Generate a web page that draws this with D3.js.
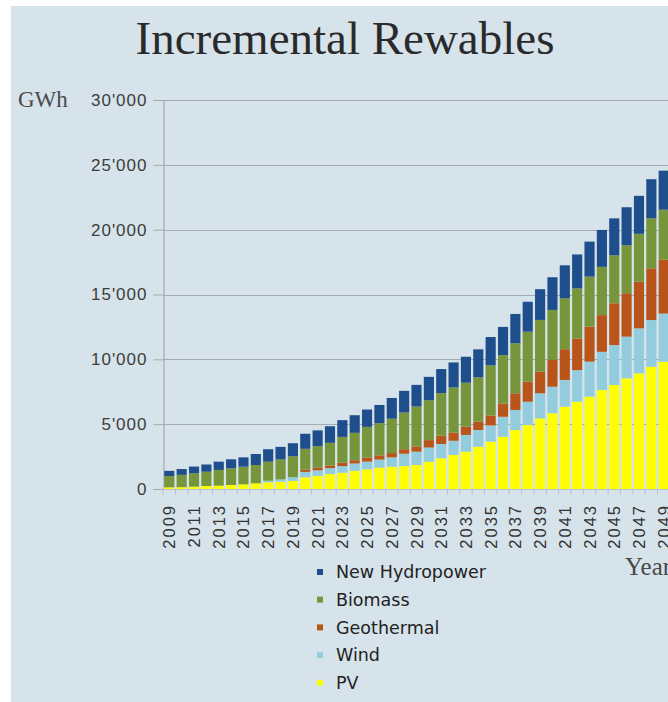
<!DOCTYPE html>
<html>
<head>
<meta charset="utf-8">
<script src="https://cdn.jsdelivr.net/npm/d3@7"></script>
<style>
    body { margin: 0; background: #fff; }
    svg { display: block; overflow: hidden; }
</style>
</head>
<body>
<div class="svg"></div>
<script>
var years = d3.range(2009, 2050);

var pv = [130, 140, 180, 230, 260, 310, 360, 440, 520, 560, 620,
    900, 1000, 1150, 1250, 1400, 1520, 1650, 1720, 1770, 1850,
    2100, 2370, 2620, 2880, 3260, 3650, 4030, 4550, 4930, 5450,
    5840, 6350, 6730, 7120, 7630, 8020, 8540, 8920, 9430, 9810];
var wind = [0, 0, 0, 0, 0, 0, 0, 0, 120, 180, 290,
    420, 440, 460, 520, 570, 590, 620, 720, 950, 1030,
    1100, 1100, 1100, 1290, 1290, 1250, 1540, 1540, 1800, 1930,
    2050, 2060, 2440, 2700, 2950, 3080, 3210, 3470, 3600, 3720];
var geothermal = [0, 0, 0, 0, 0, 0, 0, 0, 0, 0, 0,
    180, 200, 200, 250, 250, 320, 320, 330, 350, 400,
    570, 640, 640, 640, 640, 770, 1030, 1290, 1540, 1670,
    2060, 2370, 2440, 2700, 2830, 3220, 3350, 3590, 3990, 4150];
var biomass = [870, 950, 1030, 1100, 1210, 1290, 1360, 1410, 1470, 1540, 1620,
    1600, 1670, 1750, 2000, 2110, 2360, 2490, 2650, 2830, 3080,
    3080, 3290, 3470, 3390, 3420, 3860, 3720, 3860, 3860, 3990,
    3860, 3930, 3860, 3860, 3720, 3700, 3700, 3700, 3860, 3860];
var hydro = [400, 450, 520, 560, 640, 690, 720, 850, 960, 970, 1000,
    1160, 1210, 1280, 1290, 1360, 1340, 1400, 1600, 1670, 1670,
    1800, 1850, 1930, 2000, 2160, 2190, 2180, 2260, 2310, 2370,
    2520, 2540, 2620, 2700, 2850, 2850, 2930, 2930, 3010, 3010];

var seriesNames = ['PV', 'Wind', 'Geothermal', 'Biomass', 'New Hydropower'];
var seriesColors = ['#ffff00', '#93cddd', '#b9551a', '#77953b', '#1f4e8d'];
var yTicks = [0, 5000, 10000, 15000, 20000, 25000, 30000];

width = 668;
height = 702;

var table = years.map(function (yr, i) {
    return { year: yr, 'PV': pv[i], 'Wind': wind[i], 'Geothermal': geothermal[i],
        'Biomass': biomass[i], 'New Hydropower': hydro[i] };
});

var stacked = d3.stack().keys(seriesNames)(table);

var svg = d3.select('div.svg')
    .append('svg')
    .attr('width', width)
    .attr('height', height)

svg.append('rect')
    .attr('x', 11)
    .attr('y', 6)
    .attr('width', width - 11)
    .attr('height', height - 6)
    .attr('fill', '#d6e3ea')

var x = d3.scaleBand()
    .domain(years)
    .range([163, 670])
    .paddingInner(0.18)
    .paddingOuter(0.1)

var y = d3.scaleLinear()
    .domain([0, 30000])
    .range([489, 100])

var color = d3.scaleOrdinal()
    .domain(seriesNames)
    .range(seriesColors)

var fmt = function (d) { return d3.format(',')(d).replace(',', "'"); };

svg.append('g')
    .selectAll('line')
    .data(yTicks.slice(1))
    .enter()
    .append('line')
    .attr('x1', 163)
    .attr('x2', width)
    .attr('y1', d => Math.round(y(d)) + 0.5)
    .attr('y2', d => Math.round(y(d)) + 0.5)
    .attr('stroke', '#a3abb0')
    .attr('stroke-width', 1.2)

var yAxis = svg.append('g')
    .attr('transform', 'translate(163.5,0)')
    .call(d3.axisLeft(y).tickValues(yTicks).tickFormat(fmt).tickSize(10).tickPadding(6))

yAxis.select('.domain').attr('stroke', '#a3abb0').attr('stroke-width', 1.2)
yAxis.selectAll('.tick line').attr('stroke', '#a3abb0')
yAxis.selectAll('.tick text')
    .attr('font-family', '"Liberation Sans", Arial, sans-serif')
    .attr('font-size', 17)
    .attr('letter-spacing', 1)
    .attr('fill', '#3d3d3d')

svg.append('g')
    .selectAll('g')
    .data(stacked)
    .enter()
    .append('g')
    .attr('fill', d => color(d.key))
    .selectAll('rect')
    .data(d => d)
    .enter()
    .append('rect')
    .attr('x', d => x(d.data.year))
    .attr('y', d => y(d[1]))
    .attr('width', x.bandwidth())
    .attr('height', d => y(d[0]) - y(d[1]))

svg.append('line')
    .attr('x1', 163)
    .attr('x2', width)
    .attr('y1', 489.5)
    .attr('y2', 489.5)
    .attr('stroke', '#b7c3ca')

svg.append('g')
    .selectAll('line')
    .data(years)
    .enter()
    .append('line')
    .attr('x1', d => x(d) - x.step() * x.paddingInner() / 2)
    .attr('x2', d => x(d) - x.step() * x.paddingInner() / 2)
    .attr('y1', 490)
    .attr('y2', 495)
    .attr('stroke', '#b7c3ca')

svg.append('g')
    .selectAll('text')
    .data(years.filter(d => (d - 2009) % 2 == 0))
    .enter()
    .append('text')
    .attr('transform', d => 'translate(' + (x(d) + x.bandwidth() / 2 + 6) + ',504) rotate(-90)')
    .attr('text-anchor', 'end')
    .attr('font-family', '"Liberation Sans", Arial, sans-serif')
    .attr('font-size', 16.5)
    .attr('letter-spacing', 2)
    .attr('fill', '#333')
    .text(d => d)

svg.append('text')
    .attr('x', 345)
    .attr('y', 54)
    .attr('text-anchor', 'middle')
    .attr('font-family', '"Liberation Serif", "Times New Roman", serif')
    .attr('font-size', 47)
    .attr('fill', '#2a2a2a')
    .text('Incremental Rewables')

svg.append('text')
    .attr('x', 18)
    .attr('y', 107)
    .attr('font-family', '"Liberation Serif", "Times New Roman", serif')
    .attr('font-size', 23)
    .attr('fill', '#4a4a4a')
    .text('GWh')

svg.append('text')
    .attr('x', 625)
    .attr('y', 575)
    .attr('font-family', '"Liberation Serif", "Times New Roman", serif')
    .attr('font-size', 25)
    .attr('fill', '#4a4a4a')
    .text('Year')

var legend = svg.append('g')
    .selectAll('g')
    .data(seriesNames.slice().reverse())
    .enter()
    .append('g')
    .attr('transform', function (d, i) {
        return 'translate(317,' + (572 + i * 27.7) + ')';
    })

legend.append('rect')
    .attr('x', 0)
    .attr('y', -3)
    .attr('width', 6)
    .attr('height', 6)
    .attr('fill', d => color(d))

legend.append('text')
    .attr('x', 19)
    .attr('y', 0)
    .attr('dy', '0.36em')
    .attr('font-family', '"DejaVu Sans", Verdana, sans-serif')
    .attr('font-size', 17.5)
    .attr('fill', '#222')
    .text(d => d)
</script>
</body>
</html>
